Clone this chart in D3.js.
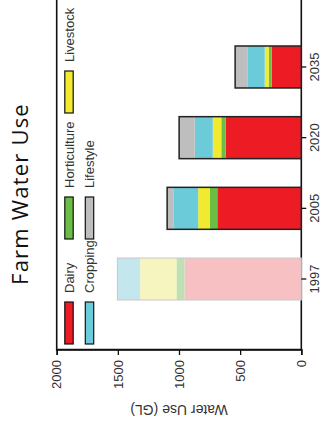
<!DOCTYPE html>
<html>
<head>
<meta charset="utf-8">
<script src="https://cdn.jsdelivr.net/npm/d3@7/dist/d3.min.js"></script>
<style>
  html, body { margin: 0; padding: 0; background: #fff; }
  svg { display: block; }
</style>
</head>
<body>
<svg id="chart" width="326" height="435"></svg>
<script>
// ---- data ----
const years = ["1997", "2005", "2020", "2035"];
const categories = ["Dairy", "Horticulture", "Livestock", "Cropping", "Lifestyle"];
const dairy        = [955, 687, 618, 242];
const horticulture = [66, 60, 36, 24];
const livestock    = [297, 96, 70, 33];
const cropping     = [186, 199, 147, 142];
const lifestyle    = [0, 55, 128, 100];
const valueTicks   = [0, 500, 1000, 1500, 2000];
const fadedYears   = ["1997"];

// ---- styles ----
const colors = {
  Dairy: "#ed1c24", Horticulture: "#6abd45", Livestock: "#f1ea2e",
  Cropping: "#6ccbd9", Lifestyle: "#bebebe"
};
const faded = {
  Dairy: "#f7c1c4", Horticulture: "#bfe0b2", Livestock: "#f6f4bf",
  Cropping: "#c4e7ee", Lifestyle: "#e2e2e2"
};

const series = { Dairy: dairy, Horticulture: horticulture, Livestock: livestock, Cropping: cropping, Lifestyle: lifestyle };
const rows = years.map((yr, i) => {
  const o = { year: yr };
  categories.forEach(c => o[c] = series[c][i]);
  return o;
});

const svg = d3.select("#chart");
// chart drawn in a 435 x 326 space, then rotated 90deg counter-clockwise
const g = svg.append("g").attr("transform", "translate(0,435) rotate(-90)");

const x = d3.scaleBand().domain(years).range([120.65, 403.35]).paddingInner(0.406).paddingOuter(0.203);
const y = d3.scaleLinear().domain([0, 2000]).range([301.3, 56.7]);

const font = "'Liberation Sans', Arial, sans-serif";

// frame
g.append("rect")
  .attr("x", 85).attr("y", y(2000))
  .attr("width", 400).attr("height", y(0) - y(2000))
  .attr("fill", "none").attr("stroke", "#111").attr("stroke-width", 1.6);

// stacked bars
const stack = d3.stack().keys(categories)(rows);
stack.forEach(layer => {
  g.append("g").selectAll("rect").data(layer).join("rect")
    .attr("x", d => x(d.data.year))
    .attr("width", x.bandwidth())
    .attr("y", d => y(d[1]))
    .attr("height", d => y(d[0]) - y(d[1]))
    .attr("fill", d => fadedYears.includes(d.data.year) ? faded[layer.key] : colors[layer.key]);
});
// outlines
g.append("g").selectAll("rect").data(rows).join("rect")
  .attr("x", d => x(d.year))
  .attr("width", x.bandwidth())
  .attr("y", d => y(d3.sum(categories, c => d[c])))
  .attr("height", d => y(0) - y(d3.sum(categories, c => d[c])))
  .attr("fill", "none")
  .attr("stroke", d => fadedYears.includes(d.year) ? "#c8c8c8" : "#222")
  .attr("stroke-width", d => fadedYears.includes(d.year) ? 1 : 1.5);

// value axis (left in chart space)
const yAxis = d3.axisLeft(y).tickValues(valueTicks).tickSize(5).tickPadding(5).tickFormat(d3.format("d"));
const ya = g.append("g").attr("transform", "translate(85,0)").call(yAxis);
ya.select(".domain").attr("stroke", "#111").attr("stroke-width", 1.6);
ya.selectAll(".tick line").attr("stroke", "#111").attr("stroke-width", 1.3);
ya.selectAll("text").attr("font-family", font).attr("font-size", 13).attr("fill", "#333");

// category axis (bottom in chart space)
const xAxis = d3.axisBottom(x).tickSize(5).tickPadding(3);
const xa = g.append("g").attr("transform", `translate(0,${y(0)})`).call(xAxis);
xa.select(".domain").remove();
xa.selectAll(".tick line").attr("stroke", "#111").attr("stroke-width", 1.3);
xa.selectAll("text").attr("font-family", font).attr("font-size", 13).attr("fill", "#333");

// axis title
g.append("text")
  .attr("transform", `translate(30,${(y(0) + y(2000)) / 2}) rotate(-90)`)
  .attr("text-anchor", "middle")
  .attr("font-family", font).attr("font-size", 14).attr("fill", "#333")
  .text("Water Use (GL)");

// title
g.append("text")
  .attr("x", 241).attr("y", 28)
  .attr("text-anchor", "middle")
  .attr("font-family", "'Open Sans', 'DejaVu Sans', sans-serif").attr("font-size", 22)
  .attr("letter-spacing", 1.2).attr("fill", "#111")
  .text("Farm Water Use");

// legend
const colX = [91, 196, 322];
const rowY = [64.8, 85.3];
const leg = g.append("g").selectAll("g").data(categories).join("g")
  .attr("transform", (d, i) => `translate(${colX[i % 3]},${rowY[Math.floor(i / 3)]})`);
leg.append("rect")
  .attr("width", 42).attr("height", 8.4)
  .attr("fill", d => colors[d]).attr("stroke", "#111").attr("stroke-width", 1.2);
leg.append("text")
  .attr("x", 51).attr("y", 4.2).attr("dy", "0.35em")
  .attr("font-family", font).attr("font-size", 13).attr("fill", "#333")
  .text(d => d);
</script>
</body>
</html>
